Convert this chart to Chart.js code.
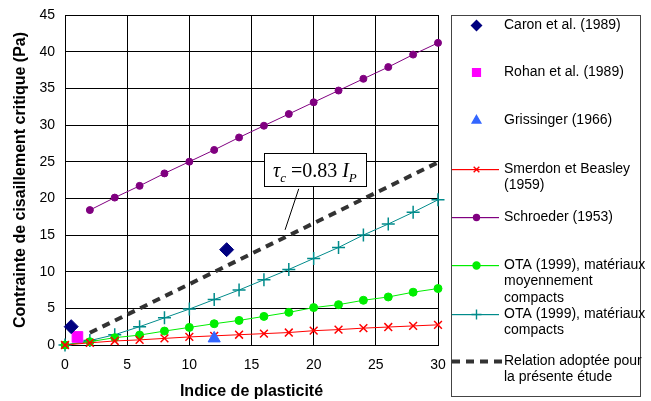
<!DOCTYPE html>
<html lang="fr">
<head>
<meta charset="UTF-8">
<title>Contrainte de cisaillement critique</title>
<style>
  body { margin: 0; background: #fff; }
  canvas { display: block; }
</style>
</head>
<body>
<canvas id="chart" width="651" height="401"></canvas>
<script src="https://cdn.jsdelivr.net/npm/chart.js"></script>
<script>
// data
const ip = [0, 2, 4, 6, 8, 10, 12, 14, 16, 18, 20, 22, 24, 26, 28, 30];
const ipFrom2 = ip.slice(1);

const caronX = [0.5, 13];
const caronY = [2.5, 13.0];
const rohanX = [1];
const rohanY = [1.1];
const grissingerX = [12];
const grissingerY = [0.9];

const smerdonY = [0, 0.3, 0.55, 0.7, 0.9, 1.1, 1.25, 1.4, 1.55, 1.7, 1.95, 2.1, 2.3, 2.45, 2.6, 2.75];
const schroederY = [18.4, 20.1, 21.7, 23.4, 25.0, 26.6, 28.3, 29.9, 31.5, 33.1, 34.7, 36.3, 37.9, 39.6, 41.2];
const otaMoyY = [0, 0.45, 1.0, 1.35, 1.9, 2.4, 2.9, 3.35, 3.9, 4.45, 5.1, 5.5, 6.1, 6.55, 7.2, 7.7];
const otaCompY = [0, 0.6, 1.4, 2.5, 3.7, 4.9, 6.2, 7.5, 8.9, 10.3, 11.8, 13.3, 15.0, 16.5, 18.1, 19.8];
const relationX = [2, 30];
const relationY = [1.66, 24.9];

const xTicks = [0, 5, 10, 15, 20, 25, 30];
const yTicks = [0, 5, 10, 15, 20, 25, 30, 35, 40, 45];

const legendText = [
  ['Caron et al. (1989)'],
  ['Rohan et al. (1989)'],
  ['Grissinger (1966)'],
  ['Smerdon et Beasley', '(1959)'],
  ['Schroeder (1953)'],
  ['OTA (1999), matériaux', 'moyennement', 'compacts'],
  ['OTA (1999), matériaux', 'compacts'],
  ['Relation adoptée pour', 'la présente étude']
];

const colors = ['#000080', '#FF00FF', '#3366FF', '#FF0000', '#800080', '#00EE00', '#008B8B', '#333333'];
const styles = ['rectRot', 'rect', 'triangle', 'crossRot', 'circle', 'circle', 'cross', false];
const hasLine = [false, false, false, true, true, true, true, true];

function pts(xs, ys) {
  return ys.map((y, i) => ({ x: xs[i], y: y }));
}

const font = 'Liberation Sans, Arial, sans-serif';

// legend rows: y of first text line, marker radius in legend
const legendRows = [25, 72, 120, 169, 217, 265, 314, 361];
const legendRadius = [5, 5.5, 5, 4, 3, 3.5, 5, 0];

const legendBox = {
  id: 'legendBox',
  afterDraw(chart) {
    const ctx = chart.ctx;
    ctx.save();
    ctx.strokeStyle = '#444';
    ctx.lineWidth = 1;
    ctx.strokeRect(451.5, 15.5, 189, 381);
    legendText.forEach((lines, i) => {
      const y = legendRows[i];
      if (hasLine[i]) {
        ctx.fillStyle = colors[i];
        if (i === 7) {
          [452, 466, 480, 494].forEach(x0 => ctx.fillRect(x0, y - 1.5, 8, 4));
        } else {
          ctx.fillRect(452, y, 47, 1.2);
        }
      }
      if (styles[i]) {
        ctx.save();
        ctx.fillStyle = colors[i];
        ctx.strokeStyle = colors[i];
        ctx.lineWidth = 1.4;
        Chart.helpers.drawPoint(ctx, {
          pointStyle: styles[i], radius: legendRadius[i], rotation: 0, borderWidth: 1.4
        }, 476.5, y + 0.5);
        ctx.restore();
      }
      ctx.fillStyle = '#000';
      ctx.font = '14px ' + font;
      ctx.textBaseline = 'middle';
      ctx.textAlign = 'left';
      lines.forEach((t, k) => ctx.fillText(t, 504, y + k * 16.5));
    });
    ctx.restore();
  }
};

const frame = {
  id: 'frame',
  beforeDatasetsDraw(chart) {
    const a = chart.chartArea;
    const ctx = chart.ctx;
    ctx.save();
    ctx.strokeStyle = '#000';
    ctx.lineWidth = 1;
    ctx.strokeRect(a.left + 0.5, a.top + 0.5, a.right - a.left, a.bottom - a.top);
    ctx.restore();
  },
  afterDatasetsDraw(chart) {
    // equation label with leader line
    const ctx = chart.ctx;
    const sx = chart.scales.x, sy = chart.scales.y;
    ctx.save();
    ctx.strokeStyle = '#000';
    ctx.lineWidth = 1;
    ctx.beginPath();
    ctx.moveTo(sx.getPixelForValue(17.7), sy.getPixelForValue(15.7));
    ctx.lineTo(sx.getPixelForValue(18.8), sy.getPixelForValue(21.3));
    ctx.stroke();
    const cx = sx.getPixelForValue(20.1), cy = sy.getPixelForValue(23.9);
    const w = 102, h = 33;
    const bx = Math.round(cx - w / 2) + 0.5, by = Math.round(cy - h / 2) + 0.5;
    ctx.fillStyle = '#fff';
    ctx.fillRect(bx, by, w, h);
    ctx.strokeRect(bx, by, w, h);

    const big = '20px Liberation Serif, Times New Roman, serif';
    const bigIt = 'italic 20px Liberation Serif, Times New Roman, serif';
    const small = 'italic 13px Liberation Serif, Times New Roman, serif';
    const parts = [
      ['τ', bigIt, 0], ['c', small, 5], [' =', big, 0], ['0.83 ', big, 0],
      ['I', bigIt, 0], ['P', small, 5]
    ];
    let total = 0;
    parts.forEach(p => { ctx.font = p[1]; total += ctx.measureText(p[0]).width; });
    let x = cx - total / 2;
    ctx.fillStyle = '#000';
    ctx.textBaseline = 'alphabetic';
    parts.forEach(p => {
      ctx.font = p[1];
      ctx.fillText(p[0], x, cy + 7 + p[2]);
      x += ctx.measureText(p[0]).width;
    });
    ctx.restore();
  }
};

const seriesX = [caronX, rohanX, grissingerX, ip, ipFrom2, ip, ip, relationX];
const seriesY = [caronY, rohanY, grissingerY, smerdonY, schroederY, otaMoyY, otaCompY, relationY];
const radius = [7, 7.5, 7, 5.5, 3.5, 4, 6.5, 0];

new Chart(document.getElementById('chart'), {
  type: 'scatter',
  data: {
    datasets: seriesY.map((ys, i) => ({
      label: legendText[i].join(' '),
      data: pts(seriesX[i], ys),
      showLine: hasLine[i],
      borderColor: colors[i],
      backgroundColor: colors[i],
      borderWidth: i === 7 ? 4 : 1,
      borderDash: i === 7 ? [8, 6] : [],
      pointStyle: styles[i] || 'circle',
      pointRadius: radius[i],
      pointBackgroundColor: colors[i],
      pointBorderColor: colors[i],
      pointBorderWidth: (i === 3 || i === 6) ? 1.5 : 1,
      clip: false
    }))
  },
  options: {
    responsive: false,
    animation: false,
    layout: { padding: { left: 0, top: 15, right: 213, bottom: 0 } },
    plugins: { legend: { display: false }, tooltip: { enabled: false } },
    scales: {
      x: {
        type: 'linear', min: 0, max: 30,
        afterFit: s => { s.height = 56; s.paddingLeft = 0; s.paddingRight = 0; },
        afterBuildTicks: s => { s.ticks = xTicks.map(v => ({ value: v })); },
        grid: { color: '#000', drawTicks: false },
        border: { display: false },
        ticks: { color: '#000', padding: 12, font: { family: font, size: 14 } },
        title: {
          display: true, text: 'Indice de plasticité', color: '#000',
          padding: { top: 0, bottom: 0 },
          font: { family: font, size: 16, weight: 'bold' }
        }
      },
      y: {
        type: 'linear', min: 0, max: 45,
        afterFit: s => { s.width = 65; s.paddingTop = 0; s.paddingBottom = 0; },
        afterBuildTicks: s => { s.ticks = yTicks.map(v => ({ value: v })); },
        grid: { color: '#000', drawTicks: false },
        border: { display: false },
        ticks: { color: '#000', padding: 10, font: { family: font, size: 14 } },
        title: {
          display: true, text: 'Contrainte de cisaillement critique (Pa)', color: '#000',
          padding: { top: 11, bottom: 0 },
          font: { family: font, size: 16, weight: 'bold' }
        }
      }
    }
  },
  plugins: [frame, legendBox]
});
</script>
</body>
</html>
